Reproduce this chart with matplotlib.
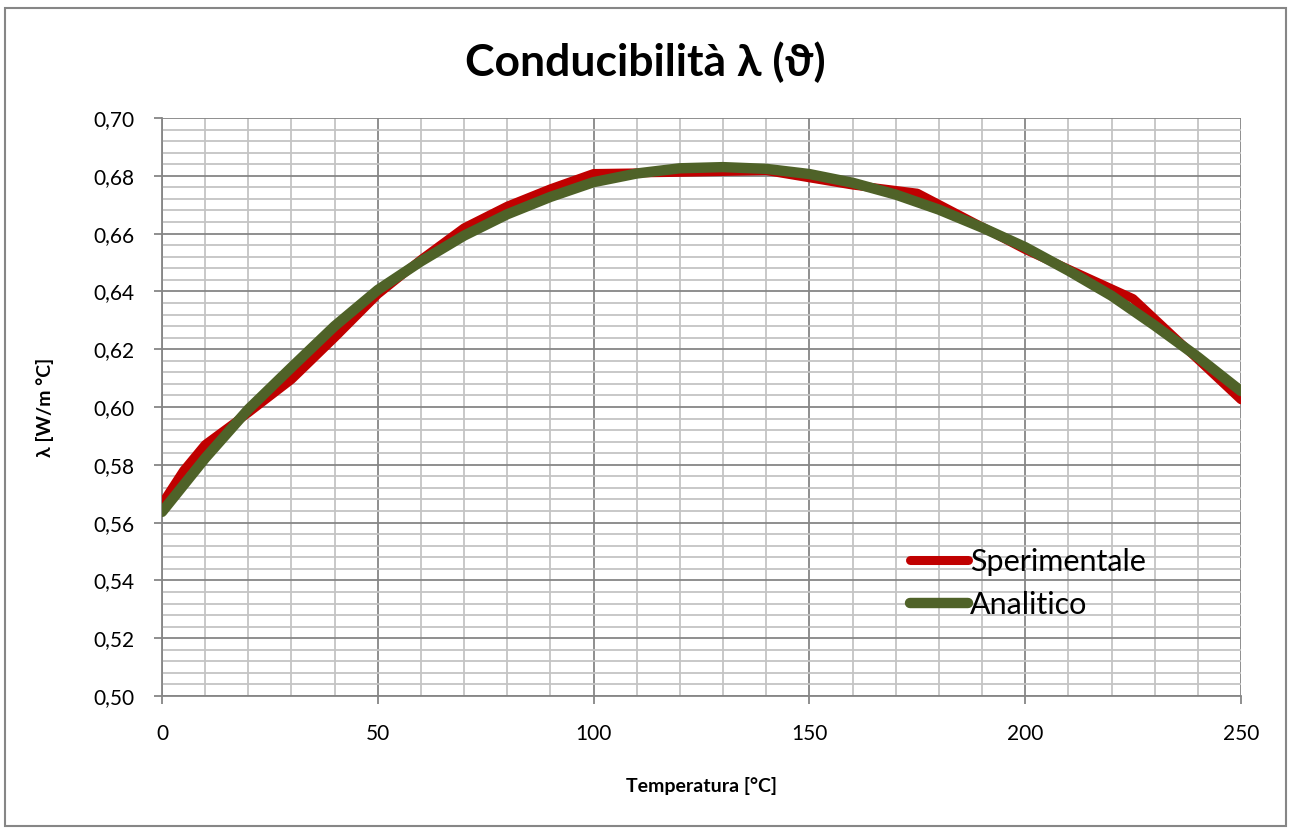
import numpy as np
import matplotlib.pyplot as plt
from matplotlib.patches import Rectangle
from matplotlib.ticker import MultipleLocator, FuncFormatter

# Temperature [°C] and measured conductivity [W/m °C]
tempSper = [0, 5, 10, 20, 30, 40, 50, 60, 70, 80, 90, 100, 120, 140, 160, 175, 200, 225, 250]
lambdaSper = [0.5665, 0.578, 0.587, 0.598, 0.6095, 0.624, 0.639, 0.651, 0.662, 0.6695,
              0.6755, 0.6808, 0.6812, 0.6818, 0.6768, 0.674, 0.6545, 0.6375, 0.6025]

# Analytic fit, sampled every 10 °C
tempAnal = [0, 10, 20, 30, 40, 50, 60, 70, 80, 90, 100, 110, 120, 130, 140, 150, 160,
            170, 180, 190, 200, 210, 220, 230, 240, 250]
lambdaAnal = [0.5637, 0.5823, 0.5992, 0.6137, 0.6280, 0.6405, 0.6504, 0.6593, 0.6667,
              0.6727, 0.6778, 0.6808, 0.6826, 0.6830, 0.6824, 0.6806, 0.6776, 0.6735,
              0.6683, 0.6621, 0.6553, 0.6472, 0.6385, 0.6282, 0.6173, 0.6055]

plt.rcParams['font.family'] = ['Lato', 'DejaVu Sans']

fig = plt.figure(figsize=(12.91, 8.34), dpi=100)
ax = fig.add_axes([162/1291, 1-696/834, (1241-162)/1291, (696-118)/834])

ax.plot(tempSper, lambdaSper, color='#c00000', lw=6.5, solid_joinstyle='round',
        solid_capstyle='round', label='Sperimentale', zorder=3)
ax.plot(tempAnal, lambdaAnal, color='#4f6228', lw=7.5, solid_joinstyle='round',
        solid_capstyle='round', label='Analitico', zorder=4)

ax.set_xlim(0, 250)
ax.set_ylim(0.50, 0.70)
ax.xaxis.set_major_locator(MultipleLocator(50))
ax.xaxis.set_minor_locator(MultipleLocator(10))
ax.yaxis.set_major_locator(MultipleLocator(0.02))
ax.yaxis.set_minor_locator(MultipleLocator(0.004))
ax.yaxis.set_major_formatter(FuncFormatter(lambda v, p: f'{v:.2f}'.replace('.', ',')))

ax.grid(True, which='minor', color='#c4c4c4', lw=1.3, zorder=0)
ax.grid(True, which='major', color='#868686', lw=1.3, zorder=1)
ax.set_axisbelow(True)

for s in ['top', 'right']:
    ax.spines[s].set_visible(False)
for s in ['left', 'bottom']:
    ax.spines[s].set_color('#868686')
    ax.spines[s].set_linewidth(1.3)

ax.tick_params(which='major', direction='out', length=6, width=1.3, color='#868686',
               labelsize=15)
ax.tick_params(which='minor', length=0)
ax.tick_params(axis='y', pad=14)
ax.tick_params(axis='x', pad=14)

fig.text(0.5, 1-62/834, 'Conducibilità λ (ϑ)', fontsize=32, fontweight='bold',
         ha='center', va='center')
ax.set_xlabel('Temperatura [°C]', fontsize=14, fontweight='bold', labelpad=24)
ax.set_ylabel('λ [W/m °C]', fontsize=14, fontweight='bold', labelpad=28)

ax.legend(loc='upper left', bbox_to_anchor=(910/1291, 1-548/834),
          bbox_transform=fig.transFigure, frameon=False, fontsize=22,
          handlelength=1.9, handletextpad=0.05, labelspacing=0.48,
          borderpad=0, borderaxespad=0)

fig.patches.append(Rectangle((5/1291, 8/834), 1281/1291, 818/834, transform=fig.transFigure,
                             fill=False, edgecolor='#868686', lw=1.5))

fig.savefig('out.png', dpi=100)
